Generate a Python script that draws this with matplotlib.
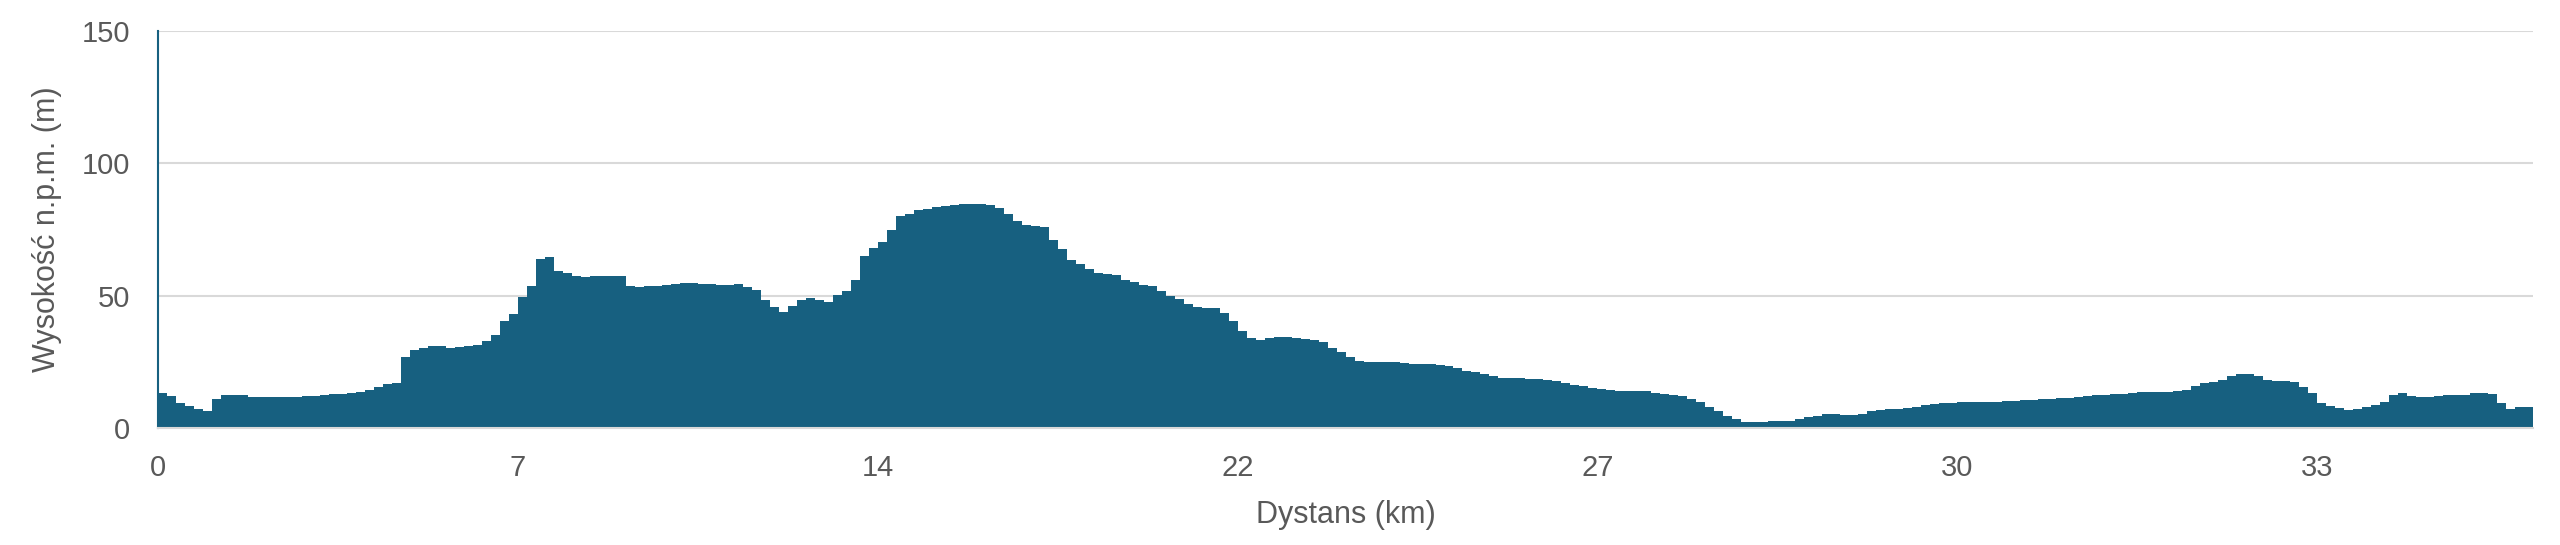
import matplotlib.pyplot as plt
import numpy as np

# Profil wysokości (m n.p.m.), jeden punkt na kategorię osi X
wysokosc = [
    13.1, 12.0, 9.3, 8.2, 7.2, 6.6, 11.0, 12.4, 12.6, 12.3,
    11.8, 11.7, 11.7, 11.7, 11.7, 11.8, 12.0, 12.2, 12.5, 12.7,
    12.9, 13.2, 13.5, 14.2, 15.6, 16.5, 17.0, 27.0, 29.6, 30.1,
    30.9, 31.1, 30.4, 30.5, 30.8, 31.5, 32.7, 35.0, 40.5, 43.0,
    49.5, 53.8, 63.8, 64.8, 59.2, 58.5, 57.3, 57.0, 57.3, 57.3,
    57.3, 57.3, 53.8, 53.4, 53.6, 53.7, 54.2, 54.6, 54.7, 54.7,
    54.6, 54.5, 54.1, 54.1, 54.5, 53.3, 52.3, 48.5, 45.8, 44.0,
    46.0, 48.5, 49.2, 48.2, 47.7, 50.3, 51.9, 56.0, 65.0, 68.2,
    70.1, 75.0, 80.0, 81.0, 82.2, 82.9, 83.6, 84.0, 84.2, 84.5,
    84.5, 84.5, 84.3, 83.0, 81.0, 78.1, 76.6, 76.2, 76.0, 71.0,
    67.8, 63.5, 62.0, 59.9, 58.7, 58.2, 57.7, 56.0, 55.0, 54.2,
    53.6, 51.8, 50.0, 48.8, 46.7, 45.7, 45.5, 45.3, 43.5, 40.5,
    36.5, 34.0, 33.4, 34.0, 34.3, 34.3, 34.0, 33.6, 33.3, 32.5,
    30.4, 28.6, 26.7, 25.5, 25.0, 24.9, 24.9, 24.8, 24.6, 24.3,
    24.1, 24.0, 23.8, 23.6, 22.6, 21.7, 21.1, 20.4, 19.6, 19.0,
    18.9, 18.8, 18.6, 18.4, 18.1, 17.6, 17.0, 16.3, 15.8, 15.3,
    14.9, 14.3, 14.0, 13.8, 13.8, 13.8, 13.2, 12.8, 12.5, 12.0,
    11.0, 9.8, 7.8, 6.5, 4.6, 3.5, 2.2, 2.1, 2.1, 2.5,
    2.5, 2.8, 3.3, 4.1, 4.7, 5.4, 5.3, 4.9, 4.8, 5.2,
    6.3, 6.8, 7.0, 7.2, 7.5, 8.0, 8.6, 9.0, 9.3, 9.5,
    9.7, 9.7, 9.8, 9.9, 9.9, 10.1, 10.3, 10.4, 10.6, 10.8,
    11.0, 11.2, 11.5, 11.7, 12.0, 12.3, 12.6, 12.8, 13.0, 13.3,
    13.5, 13.6, 13.6, 13.6, 14.0, 14.2, 15.9, 17.0, 17.4, 18.3,
    19.6, 20.4, 20.5, 19.5, 18.0, 17.6, 17.8, 17.5, 15.6, 13.2,
    9.5, 8.3, 7.4, 6.8, 7.3, 8.0, 8.6, 10.0, 12.5, 13.1,
    12.2, 11.8, 11.6, 12.1, 12.5, 12.5, 12.4, 13.1, 13.1, 12.9,
    9.5, 7.0, 7.8, 7.8,
]

# Etykiety osi X (co 40 kategorii)
etykiety_km = ["0", "7", "14", "22", "27", "30", "33"]
krok_etykiet = 40

kolor = "#176080"
szary = "#595959"

plt.rcParams['font.family'] = ['Liberation Sans', 'DejaVu Sans']

fig = plt.figure(figsize=(25.6, 5.45), dpi=100)
ax = fig.add_axes([0.0617, 0.2147, 0.9278, 0.7283])

n = len(wysokosc)
krawedzie = np.arange(n + 1)
ax.stairs(wysokosc, krawedzie, fill=True, color=kolor, linewidth=0)

ax.set_xlim(0, n)
ax.set_ylim(0, 150)
ax.set_yticks([0, 50, 100, 150])
ax.set_xticks(np.arange(len(etykiety_km)) * krok_etykiet)
ax.set_xticklabels(etykiety_km)

ax.grid(axis='y', color='#D9D9D9', linewidth=1.5)
ax.set_axisbelow(True)
for s in ['top', 'right']:
    ax.spines[s].set_visible(False)
ax.spines['left'].set_color(kolor)
ax.spines['left'].set_linewidth(1.5)
ax.spines['bottom'].set_color('#D9D9D9')
ax.spines['bottom'].set_linewidth(1.5)

ax.tick_params(axis='both', length=0, labelsize=21, colors=szary)
ax.tick_params(axis='y', pad=20)
ax.tick_params(axis='x', pad=19)

ax.set_xlabel("Dystans (km)", fontsize=22, color=szary, labelpad=13)
ax.set_ylabel("Wysokość n.p.m. (m)", fontsize=22, color=szary, labelpad=14)

plt.savefig("out.png", dpi=100)
